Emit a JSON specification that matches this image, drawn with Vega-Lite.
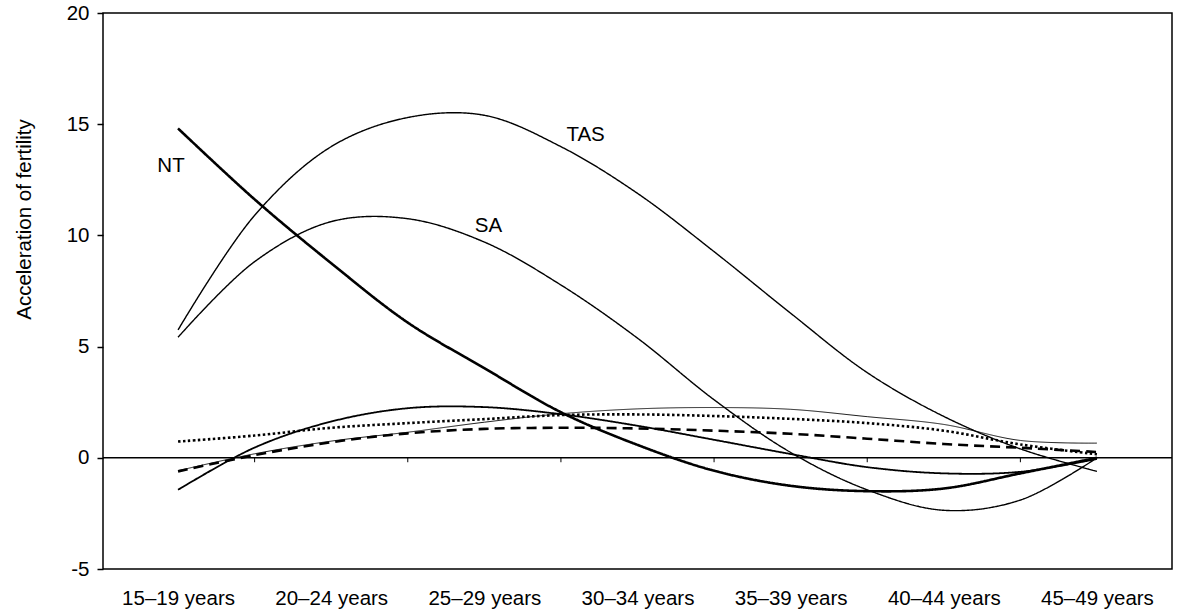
{
  "$schema": "https://vega.github.io/schema/vega-lite/v6.json",
  "width": 1069,
  "height": 556,
  "autosize": {"type": "none"},
  "padding": {"left": 103, "top": 13, "right": 18, "bottom": 42},
  "background": "white",
  "config": {
    "view": {"stroke": "black", "strokeWidth": 1.5},
    "font": "Liberation Sans",
    "axis": {"labelFont": "Liberation Sans", "titleFont": "Liberation Sans", "labelColor": "black", "titleColor": "black", "grid": false}
  },
  "datasets": {
    "curves": [
      {"pos": 0, "series": "NT", "value": 14.81}, {"pos": 0.5, "series": "NT", "value": 11.62}, {"pos": 1, "series": "NT", "value": 8.75}, {"pos": 1.5, "series": "NT", "value": 6.08}, {"pos": 2, "series": "NT", "value": 4.03}, {"pos": 2.5, "series": "NT", "value": 2.05}, {"pos": 3, "series": "NT", "value": 0.58}, {"pos": 3.5, "series": "NT", "value": -0.58}, {"pos": 4, "series": "NT", "value": -1.26}, {"pos": 4.5, "series": "NT", "value": -1.5}, {"pos": 5, "series": "NT", "value": -1.38}, {"pos": 5.5, "series": "NT", "value": -0.7}, {"pos": 6, "series": "NT", "value": 0.0},
      {"pos": 0, "series": "TAS", "value": 5.75}, {"pos": 0.5, "series": "TAS", "value": 10.9}, {"pos": 1, "series": "TAS", "value": 13.99}, {"pos": 1.5, "series": "TAS", "value": 15.3}, {"pos": 2, "series": "TAS", "value": 15.4}, {"pos": 2.5, "series": "TAS", "value": 13.99}, {"pos": 3, "series": "TAS", "value": 11.89}, {"pos": 3.5, "series": "TAS", "value": 9.27}, {"pos": 4, "series": "TAS", "value": 6.5}, {"pos": 4.5, "series": "TAS", "value": 3.83}, {"pos": 5, "series": "TAS", "value": 1.86}, {"pos": 5.5, "series": "TAS", "value": 0.4}, {"pos": 6, "series": "TAS", "value": -0.61},
      {"pos": 0, "series": "SA", "value": 5.42}, {"pos": 0.5, "series": "SA", "value": 8.82}, {"pos": 1, "series": "SA", "value": 10.62}, {"pos": 1.5, "series": "SA", "value": 10.75}, {"pos": 2, "series": "SA", "value": 9.7}, {"pos": 2.5, "series": "SA", "value": 7.77}, {"pos": 3, "series": "SA", "value": 5.38}, {"pos": 3.5, "series": "SA", "value": 2.61}, {"pos": 4, "series": "SA", "value": 0.24}, {"pos": 4.5, "series": "SA", "value": -1.44}, {"pos": 5, "series": "SA", "value": -2.36}, {"pos": 5.5, "series": "SA", "value": -1.9}, {"pos": 6, "series": "SA", "value": 0.0},
      {"pos": 0, "series": "S4", "value": -1.44}, {"pos": 0.5, "series": "S4", "value": 0.46}, {"pos": 1, "series": "S4", "value": 1.63}, {"pos": 1.5, "series": "S4", "value": 2.23}, {"pos": 2, "series": "S4", "value": 2.28}, {"pos": 2.5, "series": "S4", "value": 1.96}, {"pos": 3, "series": "S4", "value": 1.44}, {"pos": 3.5, "series": "S4", "value": 0.81}, {"pos": 4, "series": "S4", "value": 0.17}, {"pos": 4.5, "series": "S4", "value": -0.42}, {"pos": 5, "series": "S4", "value": -0.7}, {"pos": 5.5, "series": "S4", "value": -0.63}, {"pos": 6, "series": "S4", "value": -0.05},
      {"pos": 0, "series": "S5", "value": -0.58}, {"pos": 0.5, "series": "S5", "value": 0.18}, {"pos": 1, "series": "S5", "value": 0.75}, {"pos": 1.5, "series": "S5", "value": 1.15}, {"pos": 2, "series": "S5", "value": 1.6}, {"pos": 2.5, "series": "S5", "value": 1.98}, {"pos": 3, "series": "S5", "value": 2.2}, {"pos": 3.5, "series": "S5", "value": 2.26}, {"pos": 4, "series": "S5", "value": 2.18}, {"pos": 4.5, "series": "S5", "value": 1.85}, {"pos": 5, "series": "S5", "value": 1.5}, {"pos": 5.5, "series": "S5", "value": 0.78}, {"pos": 6, "series": "S5", "value": 0.66},
      {"pos": 0, "series": "S6", "value": 0.73}, {"pos": 0.5, "series": "S6", "value": 1.0}, {"pos": 1, "series": "S6", "value": 1.35}, {"pos": 1.5, "series": "S6", "value": 1.56}, {"pos": 2, "series": "S6", "value": 1.74}, {"pos": 2.5, "series": "S6", "value": 1.92}, {"pos": 3, "series": "S6", "value": 1.95}, {"pos": 3.5, "series": "S6", "value": 1.88}, {"pos": 4, "series": "S6", "value": 1.75}, {"pos": 4.5, "series": "S6", "value": 1.56}, {"pos": 5, "series": "S6", "value": 1.22}, {"pos": 5.5, "series": "S6", "value": 0.6}, {"pos": 6, "series": "S6", "value": 0.16},
      {"pos": 0, "series": "S7", "value": -0.61}, {"pos": 0.5, "series": "S7", "value": 0.12}, {"pos": 1, "series": "S7", "value": 0.7}, {"pos": 1.5, "series": "S7", "value": 1.1}, {"pos": 2, "series": "S7", "value": 1.3}, {"pos": 2.5, "series": "S7", "value": 1.35}, {"pos": 3, "series": "S7", "value": 1.32}, {"pos": 3.5, "series": "S7", "value": 1.22}, {"pos": 4, "series": "S7", "value": 1.08}, {"pos": 4.5, "series": "S7", "value": 0.86}, {"pos": 5, "series": "S7", "value": 0.62}, {"pos": 5.5, "series": "S7", "value": 0.45}, {"pos": 6, "series": "S7", "value": 0.26}
    ],
    "tickpos": [{"pos": 0.5}, {"pos": 1.5}, {"pos": 2.5}, {"pos": 3.5}, {"pos": 4.5}, {"pos": 5.5}],
    "labels": [
      {"pos": -0.046, "value": 12.86, "text": "NT"},
      {"pos": 2.661, "value": 14.26, "text": "TAS"},
      {"pos": 2.027, "value": 10.17, "text": "SA"}
    ]
  },
  "layer": [
    {
      "data": {"name": "curves"},
      "mark": {"type": "line", "interpolate": "catmull-rom", "color": "black", "strokeCap": "butt"},
      "encoding": {
        "x": {
          "field": "pos", "type": "quantitative",
          "scale": {"domain": [-0.49, 6.49], "nice": false, "zero": false},
          "axis": {
            "values": [0, 1, 2, 3, 4, 5, 6],
            "labelExpr": "['15–19 years','20–24 years','25–29 years','30–34 years','35–39 years','40–44 years','45–49 years'][datum.value]",
            "title": null, "ticks": false, "domain": false,
            "labelFontSize": 20.5, "labelPadding": 19, "labelDx": 24,
            "labelFlush": false, "labelOverlap": false, "labelBound": false
          }
        },
        "y": {
          "field": "value", "type": "quantitative",
          "scale": {"domain": [-5, 20], "nice": false, "zero": false},
          "axis": {
            "title": "Acceleration of fertility",
            "values": [-5, 0, 5, 10, 15, 20],
            "labelExpr": "datum.value + ''",
            "labelFontSize": 20.5, "titleFontSize": 20.5, "titleFontWeight": "normal",
            "tickSize": 6, "tickColor": "black", "tickWidth": 1.5, "labelPadding": 8,
            "domain": false,
            "titleX": -79, "titleY": 206, "titleAngle": -90, "titleAlign": "center", "titleBaseline": "middle"
          }
        },
        "detail": {"field": "series"},
        "strokeWidth": {
          "field": "series", "type": "nominal",
          "scale": {"type": "ordinal", "domain": ["NT", "TAS", "SA", "S4", "S5", "S6", "S7"], "range": [2.6, 1.4, 1.4, 1.8, 0.9, 2.6, 2.6]},
          "legend": null
        },
        "strokeDash": {
          "field": "series", "type": "nominal",
          "scale": {"type": "ordinal", "domain": ["NT", "TAS", "SA", "S4", "S5", "S6", "S7"], "range": [[1, 0], [1, 0], [1, 0], [1, 0], [1, 0], [2.5, 2.5], [10, 6]]},
          "legend": null
        }
      }
    },
    {
      "data": {"values": [{}]},
      "mark": {"type": "rule", "color": "black", "strokeWidth": 1.5},
      "encoding": {"y": {"datum": 0}}
    },
    {
      "data": {"name": "tickpos"},
      "mark": {"type": "rule", "color": "black", "strokeWidth": 1},
      "encoding": {
        "x": {"field": "pos", "type": "quantitative"},
        "y": {"datum": 0},
        "y2": {"datum": -0.2}
      }
    },
    {
      "data": {"name": "labels"},
      "mark": {"type": "text", "font": "Liberation Sans", "fontSize": 20.5, "color": "black", "align": "center", "baseline": "alphabetic"},
      "encoding": {
        "x": {"field": "pos", "type": "quantitative"},
        "y": {"field": "value", "type": "quantitative"},
        "text": {"field": "text"}
      }
    }
  ]
}
